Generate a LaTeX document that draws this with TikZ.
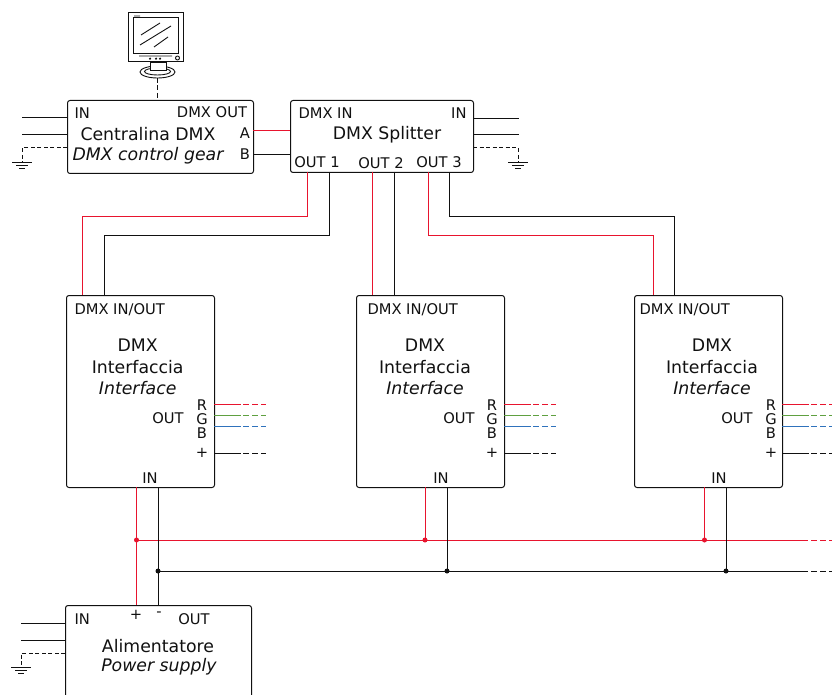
\documentclass[tikz,border=0pt]{standalone}
\usepackage{fontspec}
\usetikzlibrary{calc}
\setmainfont{DejaVu Sans}
\definecolor{wred}{HTML}{E8142E}
\definecolor{wgreen}{HTML}{5FA040}
\definecolor{wblue}{HTML}{2F72BC}
\definecolor{wblack}{HTML}{111111}
\begin{document}
\begin{tikzpicture}[x=1pt,y=-1pt,line width=1pt,
  box/.style={draw=wblack,rounded corners=2.5pt,anchor=north west,inner sep=0pt,fill=white},
  small/.style={inner sep=0pt,font=\fontsize{14.7}{17}\selectfont,text=wblack},
  big/.style={inner sep=0pt,font=\fontsize{17.3}{20}\selectfont,text=wblack},
  bigit/.style={big,font=\fontsize{17.3}{20}\selectfont\itshape},
  wire/.style={draw=wblack},
  redwire/.style={draw=wred},
  dashwire/.style={draw=wblack,dash pattern=on 5pt off 2.5pt},
  dot/.style={circle,fill,inner sep=0pt,minimum size=5pt}]
\useasboundingbox (0,0) rectangle (832,695);
\clip (0,0) rectangle (832,695);

% boxes
\node[box,minimum width=186pt,minimum height=73pt] (ctrl) at (67,100) {};
\node[box,minimum width=183pt,minimum height=72pt] (split) at (290,100) {};
\node[box,minimum width=148pt,minimum height=192pt] (if1) at (66,295) {};
\node[box,minimum width=148pt,minimum height=192pt] (if2) at (356,295) {};
\node[box,minimum width=148pt,minimum height=192pt] (if3) at (634,295) {};
\node[box,minimum width=186pt,minimum height=130pt] (psu) at (65,605) {};

% monitor
\draw[wblack,line width=.9pt] (157.5,72) ellipse (17.5pt and 6pt);
\draw[wblack,line width=.9pt] (157.5,71.5) ellipse (13pt and 3.5pt);
\draw[wblack,fill=white,line width=.9pt] (150,62) rectangle (166,70);
\draw[wblack,fill=white] (128,13) rectangle (183,62);
\draw[wblack] (133,18) rectangle (178,54);
\draw[wblack,line width=.9pt] (134,16) -- (140,16) (139,56) -- (172,56)
  (141,35) -- (160,23) (140,45) -- (171,26) (154,47) -- (168,37);
\fill[wblack] (150,58.7) circle (1.2pt) (156,58.7) circle (1.2pt) (160,58.7) circle (1.2pt);
\draw[wblack,line width=.9pt] (177.5,58) circle (2pt);
\coordinate (mon) at (157,78);
\coordinate (monb) at (157,100);
\path[dashwire,draw] (mon) -- (monb);

% mains, ground
\foreach \n/\bx/\ax/\ya/\yb/\yc/\gx/\yd in {a/67/22/118/134.5/148/22/163, b/473/519/118.5/134.5/148/518/163, c/65/21/623/640/653/21/667}{
  \coordinate (l\n1) at (\bx,\ya); \coordinate (e\n1) at (\ax,\ya);
  \coordinate (l\n2) at (\bx,\yb); \coordinate (e\n2) at (\ax,\yb);
  \coordinate (g\n0) at (\bx,\yc); \coordinate (g\n1) at (\gx,\yd);
  \draw[wire] (l\n1) -- (e\n1) (l\n2) -- (e\n2);
  \draw[dashwire,dash pattern=on 4pt off 2.5pt] (g\n0) -| (g\n1);
  \draw[wire] ($(g\n1)+(-10,0)$) -- ($(g\n1)+(10,0)$);
  \draw[wire] ($(g\n1)+(-6,3)$) -- ($(g\n1)+(6,3)$);
  \draw[wire] ($(g\n1)+(-3,6)$) -- ($(g\n1)+(3,6)$);
}

% A / B
\draw[redwire] (253,131) coordinate (pa) -- (290,131) coordinate (sa);
\draw[wire] (253,154.5) coordinate (pb) -- (290,154.5) coordinate (sb);

% splitter outs
\draw[redwire] (307,172) coordinate (o1r) |- (82,216.5) coordinate (m1r) -- (82,295) coordinate (i1r);
\draw[wire] (329,172) coordinate (o1k) |- (104,235) coordinate (m1k) -- (104,295) coordinate (i1k);
\draw[redwire] (372,172) coordinate (o2r) -- (372,295) coordinate (i2r);
\draw[wire] (394,172) coordinate (o2k) -- (394,295) coordinate (i2k);
\draw[redwire] (428,172) coordinate (o3r) |- (653,235) coordinate (m3r) -- (653,295) coordinate (i3r);
\draw[wire] (449.5,172) coordinate (o3k) |- (674,216) coordinate (m3k) -- (674,295) coordinate (i3k);

% power buses
\coordinate (pr) at (136.5,605); \coordinate (pk) at (158,605);
\coordinate (ir1) at (136.5,487); \coordinate (ik1) at (158,487);
\coordinate (ir2) at (425,487); \coordinate (ik2) at (447,487);
\coordinate (ir3) at (704.5,487); \coordinate (ik3) at (726,487);
\coordinate (jr1) at (136.5,540); \coordinate (jk1) at (158,571);
\coordinate (jr2) at (425,540); \coordinate (jk2) at (447,571);
\coordinate (jr3) at (704.5,540); \coordinate (jk3) at (726,571);
\coordinate (busr) at (808,540); \coordinate (busk) at (808,571);
\coordinate (busre) at (832,540); \coordinate (buske) at (832,571);
\draw[redwire] (ir1) -- (pr) (jr1) -- (busr) (ir2) -- (jr2) (ir3) -- (jr3);
\draw[wire] (ik1) -- (pk) (jk1) -- (busk) (ik2) -- (jk2) (ik3) -- (jk3);
\draw[redwire,dash pattern=on 6pt off 3pt] (busr) ++(3,0) -- (busre);
\draw[wire,dash pattern=on 6pt off 3pt] (busk) ++(3,0) -- (buske);
\foreach \j in {1,2,3}{
  \node[dot,fill=wred] (dr\j) at (jr\j) {};
  \node[dot,fill=wblack] (dk\j) at (jk\j) {};
}

% interface contents
\foreach \i/\bx/\cx/\ox/\lx/\hx/\dl in {1/66/137.7/168/202/150/74, 2/356/425/459/492/441/367, 3/634/712/737/771/719/639}{
  \node[small,anchor=west] (t\i a) at (\dl,310) {DMX IN/OUT};
  \node[big] (t\i b) at (\cx,345) {DMX};
  \node[big] (t\i c) at (\cx,367) {Interfaccia};
  \node[bigit] (t\i d) at (\cx,388) {Interface};
  \node[small] (t\i e) at (\ox,418) {OUT};
  \node[small] (t\i r) at (\lx,405) {R};
  \node[small] (t\i g) at (\lx,419) {G};
  \node[small] (t\i v) at (\lx,433) {B};
  \node[small] (t\i p) at (\lx,453) {+};
  \node[small] (t\i h) at (\hx,478) {IN};
  \pgfmathsetmacro{\xr}{\bx+148}
  \foreach \col/\yy in {wred/404,wgreen/415.7,wblue/426.7,wblack/453}{
    \coordinate (s) at (\xr,\yy);
    \draw[draw=\col] (s) -- ++(27,0);
    \draw[draw=\col,dash pattern=on 6pt off 3pt] (s) ++(29,0) -- ++(23,0);
  }
}

% texts: control gear
\node[small,anchor=west] (c1) at (74,113) {IN};
\node[small,anchor=east] (c2) at (247.5,112) {DMX OUT};
\node[big] (c3) at (148,134) {Centralina DMX};
\node[bigit] (c4) at (148,156) {DMX control gear};
\node[small] (c5) at (245,133) {A};
\node[small] (c6) at (245,154.5) {B};

% texts: splitter
\node[small,anchor=west] (s1) at (298,113) {DMX IN};
\node[small,anchor=east] (s2) at (467,113) {IN};
\node[big] (s3) at (387,135) {DMX Splitter};
\node[small] (s4) at (317,162) {OUT 1};
\node[small] (s5) at (381,163) {OUT 2};
\node[small] (s6) at (439,162) {OUT 3};

% texts: power supply
\node[small,anchor=west] (p1) at (74,619) {IN};
\node[small] (p2) at (136,615) {+};
\node[small] (p3) at (159,614) {-};
\node[small] (p4) at (194,619) {OUT};
\node[big] (p5) at (158,646) {Alimentatore};
\node[bigit] (p6) at (159,667) {Power supply};
\end{tikzpicture}
\end{document}
